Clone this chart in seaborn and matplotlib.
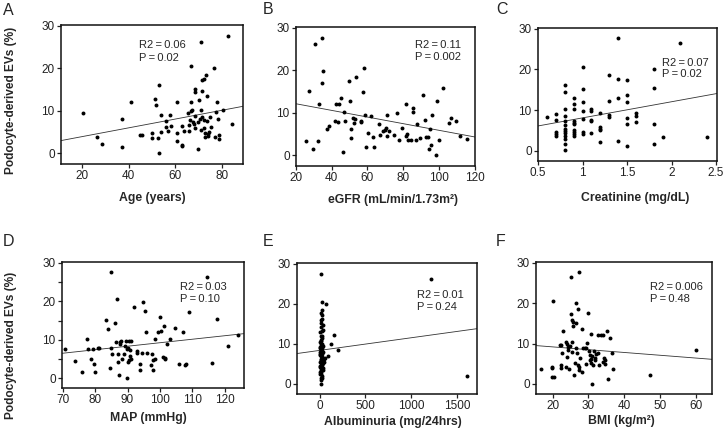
import matplotlib
matplotlib.use('Agg')
import pandas as pd
import seaborn as sns
import matplotlib.pyplot as plt

W, H = 723, 437

# A: age vs podocyte-derived EVs
age = [20.5, 26.5, 28.4, 37.2, 37.2, 41.1, 44.9, 45.9, 49.9, 50.1,
       51.1, 51.9, 52.4, 52.8, 52.9, 53.8, 53.9, 55.8, 55.9, 56.9,
       57.8, 58.1, 60.6, 60.8, 60.8, 62.8, 62.9, 62.9, 63.6, 65.4,
       65.8, 65.9, 66.5, 66.9, 66.8, 67.1, 67.4, 67.8, 68.5, 68.6,
       68.6, 68.6, 69.5, 69.6, 70.2, 70.8, 70.8, 71.5, 71.6, 71.6,
       72.4, 72.4, 72.4, 72.5, 72.5, 73.2, 73.4, 73.5, 74.2, 74.5,
       74.9, 75.4, 76.4, 76.8, 77.6, 77.9, 78.2, 78.5, 78.6, 80.5,
       82.5, 84.2, 73.9, 70.5, 66.2, 71.1]
evs_age = [9.5, 3.9, 2.1, 8.1, 1.6, 12.0, 4.3, 4.4, 4.9, 3.7,
           12.9, 11.4, 3.7, 16.1, 0.0, 9.0, 5.0, 7.5, 6.1, 5.2,
           9.0, 6.5, 12.0, 4.9, 2.8, 2.0, 1.8, 6.5, 5.2, 9.5,
           6.6, 5.2, 9.9, 12.1, 20.6, 10.1, 7.4, 6.9, 8.8, 15.2,
           14.4, 6.0, 7.4, 1.1, 12.6, 10.2, 26.3, 8.5, 17.2, 14.6,
           17.6, 7.8, 6.0, 4.9, 3.8, 18.5, 13.5, 7.7, 4.2, 5.0,
           8.5, 6.3, 20.0, 3.8, 9.7, 12.0, 8.1, 4.3, 3.4, 10.3,
           27.6, 7.0, 4.6, 8.2, 7.8, 5.4]

# B: eGFR
egfr = [25.8, 27.5, 29.3, 30.7, 32.3, 32.9, 34.4, 34.6, 35.3, 37.6,
        38.5, 42.0, 42.4, 43.6, 44.3, 45.4, 46.2, 46.9, 47.5, 49.5,
        50.5, 51.0, 51.0, 52.0, 52.5, 52.9, 53.8, 56.3, 56.3, 57.6,
        58.3, 58.9, 59.1, 60.4, 62.1, 63.9, 63.2, 66.2, 66.9, 68.8,
        69.9, 70.1, 71.0, 71.0, 72.1, 75.0, 76.4, 77.8, 79.3, 81.5,
        81.7, 82.4, 82.6, 84.1, 85.4, 85.6, 87.3, 87.7, 89.5, 91.2,
        92.7, 93.8, 94.2, 95.5, 96.3, 98.3, 98.7, 100.0, 102.1, 105.4,
        106.9, 109.5, 112.0, 115.9, 92.3, 94.8]
evs_egfr = [3.4, 15.2, 1.6, 26.1, 3.3, 12.0, 17.0, 27.5, 19.9, 6.2,
            6.8, 8.1, 12.1, 7.9, 12.1, 13.5, 0.8, 10.3, 8.1, 17.5,
            12.8, 6.1, 4.0, 8.7, 7.6, 8.6, 18.4, 7.8, 8.1, 15.0,
            20.5, 9.6, 1.9, 5.2, 9.3, 1.9, 4.4, 7.3, 4.7, 5.8,
            6.0, 6.4, 9.6, 4.6, 5.7, 4.7, 10.0, 3.7, 6.5, 12.0,
            4.6, 5.0, 3.6, 3.6, 10.3, 11.1, 3.7, 7.3, 4.1, 14.2,
            4.4, 4.3, 1.4, 2.5, 9.6, 0.0, 12.8, 3.7, 15.9, 7.5,
            8.8, 8.0, 4.6, 3.8, 8.3, 6.2]

# C: creatinine
creat = [0.6, 0.7, 0.7, 0.7, 0.7, 0.7,
         0.8, 0.8, 0.8, 0.8, 0.8, 0.8, 0.8, 0.8, 0.8, 0.8, 0.8, 0.8, 0.8,
         0.9, 0.9, 0.9, 0.9, 0.9, 0.9, 0.9, 0.9, 0.9, 0.9,
         1.0, 1.0, 1.0, 1.0, 1.0, 1.0, 1.0,
         1.1, 1.1, 1.1, 1.1, 1.1,
         1.2, 1.2, 1.2, 1.2, 1.2,
         1.3, 1.3, 1.3, 1.3,
         1.4, 1.4, 1.4, 1.4,
         1.5, 1.5, 1.5, 1.5, 1.5, 1.5,
         1.6, 1.6, 1.6,
         1.8, 1.8, 1.8, 1.8, 1.9, 2.1, 2.4]
evs_creat = [8.4, 9.1, 7.6, 4.7, 4.2, 3.7,
             16.2, 14.4, 10.2, 8.5, 7.3, 6.3, 5.4, 4.8, 4.4, 3.7, 2.8, 1.7, 0.1,
             13.0, 11.4, 10.2, 7.3, 6.9, 6.6, 5.2, 4.7, 4.2, 3.7,
             20.7, 15.2, 12.0, 9.8, 7.8, 4.7, 4.1,
             10.4, 9.7, 7.6, 7.4, 4.5,
             9.4, 5.9, 5.4, 5.0, 2.1,
             18.6, 12.2, 8.9, 8.3,
             27.8, 17.7, 12.9, 2.3,
             17.3, 13.7, 12.1, 8.0, 6.5, 1.1,
             9.2, 8.6, 7.2,
             20.1, 15.4, 6.5, 1.7, 3.4, 26.4, 3.5]

# D: mean arterial pressure
map_mmhg = [70.8, 73.9, 76.0, 77.4, 77.7, 78.6, 79.3, 79.6, 79.9, 80.8,
            81.2, 83.3, 84.0, 84.6, 84.8, 85.1, 85.0, 86.0, 86.3, 86.8,
            87.0, 87.0, 87.4, 87.6, 87.7, 88.1, 88.4, 88.9, 89.3, 89.5,
            89.8, 89.8, 90.0, 90.2, 90.4, 90.6, 90.7, 90.9, 91.0, 91.1,
            91.9, 92.8, 92.9, 93.9, 93.9, 94.4, 94.9, 95.5, 95.6, 96.1,
            97.1, 97.4, 97.8, 98.0, 98.5, 98.6, 99.4, 99.9, 100.3, 100.8,
            101.2, 101.5, 101.7, 102.3, 103.1, 104.7, 105.9, 107.1, 107.6, 107.9,
            108.9, 114.4, 116.1, 117.7, 120.9, 124.0]
evs_map = [7.5, 4.6, 1.6, 10.3, 7.5, 5.0, 7.7, 3.8, 1.6, 8.0,
           7.8, 15.1, 12.8, 2.8, 8.0, 6.4, 27.5, 14.3, 9.5, 20.5,
           6.4, 4.2, 1.0, 9.5, 8.9, 9.8, 4.9, 6.3, 8.4, 9.8,
           7.5, 0.0, 7.9, 4.3, 9.7, 4.7, 7.3, 5.9, 5.1, 9.6,
           18.4, 7.2, 6.7, 3.7, 2.2, 6.7, 19.9, 17.5, 12.1, 6.7,
           3.4, 6.3, 2.2, 4.7, 4.9, 10.2, 12.0, 15.9, 12.2, 5.6,
           13.6, 5.1, 5.3, 8.8, 10.2, 13.0, 3.8, 12.1, 3.4, 3.7,
           17.2, 26.2, 3.9, 15.3, 8.3, 11.2]

# E: albuminuria
albu = [14, 1217, 25, 69, 22, 20, 22, 18, 15, 33,
        40, 22, 156, 18, 25, 15, 120, 12, 20, 10,
        28, 203, 14, 22, 8, 87, 30, 60, 12, 45,
        18, 25, 10, 15, 35, 20, 14, 22, 12, 14,
        1609, 8, 26, 5, 30, 18, 24, 6, 36, 14,
        28, 6, 32, 16, 8, 28, 18, 6, 40, 10,
        30, 18, 5, 12, 26, 9, 33, 20, 42, 16,
        38, 50, 24]
evs_albu = [27.5, 26.2, 20.5, 19.9, 18.5, 17.7, 17.2, 15.9, 15.2, 14.7,
            13.6, 13.3, 12.3, 12.1, 11.4, 11.1, 10.1, 10.0, 9.6, 9.3,
            9.0, 8.6, 8.5, 8.0, 7.6, 7.0, 6.7, 6.4, 6.0, 5.6,
            5.2, 4.8, 4.4, 3.9, 3.5, 2.9, 2.4, 1.9, 1.6, 0.0,
            2.1, 10.4, 9.9, 8.9, 8.3, 7.8, 7.4, 7.2, 6.6, 6.3,
            5.9, 5.4, 5.0, 4.6, 4.2, 3.8, 3.4, 3.0, 4.1, 2.6,
            1.5, 1.1, 12.9, 14.3, 16.1, 8.1, 9.4, 10.8, 7.9, 6.9,
            5.3, 6.2, 12.0]

# F: BMI
bmi = [16.7, 19.7, 19.9, 19.8, 20.3, 20.0, 21.9, 22.2, 22.2, 22.4,
       22.8, 22.7, 23.6, 23.8, 23.9, 24.0, 24.3, 24.4, 24.6, 24.9,
       25.0, 25.2, 25.3, 25.5, 25.5, 25.6, 25.8, 26.0, 26.2, 26.4,
       26.5, 26.6, 26.7, 27.0, 27.2, 27.3, 27.3, 27.4, 27.6, 28.2,
       28.4, 28.3, 28.9, 29.4, 29.4, 29.6, 30.0, 30.1, 30.3, 30.3,
       30.6, 30.7, 30.7, 30.9, 31.1, 31.2, 31.5, 31.7, 31.8, 32.0,
       32.6, 33.0, 32.7, 33.5, 34.1, 34.2, 34.4, 34.5, 34.7, 35.3,
       35.6, 35.9, 36.5, 36.9, 47.2, 60.0]
evs_bmi = [3.8, 4.2, 3.9, 1.7, 1.7, 20.6, 9.7, 4.8, 4.0, 9.6,
           13.0, 7.7, 10.4, 4.3, 10.0, 6.6, 8.4, 9.2, 3.8, 9.3,
           17.3, 26.5, 7.8, 15.9, 10.5, 15.4, 14.3, 2.2, 5.2, 15.2,
           8.9, 20.0, 7.6, 4.7, 18.5, 4.1, 3.4, 27.6, 6.5, 13.7,
           8.9, 2.9, 8.8, 8.8, 4.9, 10.1, 17.6, 8.1, 7.2, 5.9,
           12.3, 5.1, 6.2, 0.0, 7.0, 4.6, 8.2, 6.5, 6.0, 7.5,
           12.1, 4.7, 7.6, 12.1, 12.0, 5.5, 6.3, 4.9, 5.9, 13.1,
           1.2, 11.4, 7.6, 3.8, 2.1, 8.3]

letters = ['A', 'B', 'C', 'D', 'E', 'F']
xlabels = ['Age (years)', 'eGFR (mL/min/1.73m\u00b2)', 'Creatinine (mg/dL)',
           'MAP (mmHg)', 'Albuminuria (mg/24hrs)', 'BMI (kg/m\u00b2)']
r2_text = ['R2\u2009=\u20090.06', 'R2\u2009=\u20090.11', 'R2\u2009=\u20090.07',
           'R2\u2009=\u20090.03', 'R2\u2009=\u20090.01', 'R2\u2009=\u20090.006']
p_text = ['P\u2009=\u20090.02', 'P\u2009=\u20090.002', 'P\u2009=\u20090.02',
          'P\u2009=\u20090.10', 'P\u2009=\u20090.24', 'P\u2009=\u20090.48']
# fitted lines (intercept, slope)
fits = [(1.87, 0.1034), (13.7, -0.078), (4.13, 3.97),
        (0.15, 0.091), (8.38, 0.00316), (10.55, -0.069)]
xticks = [[20, 40, 60, 80], [20, 40, 60, 80, 100, 120], [0.5, 1, 1.5, 2, 2.5],
          [70, 80, 90, 100, 110, 120], [0, 500, 1000, 1500], [20, 30, 40, 50, 60]]
xticklabels = [None, None, ['0.5', '1', '1.5', '2', '2.5'], None, None, None]
xlims = [(11, 89), (20, 120.2), (0.5, 2.51), (69.8, 125.9), (-246, 1717), (15.3, 64.6)]

xs = [age, egfr, creat, map_mmhg, albu, bmi]
ys = [evs_age, evs_egfr, evs_creat, evs_map, evs_albu, evs_bmi]

# layout in pixels: (left, top, right, bottom)
boxes = [(61, 25, 243, 164), (296, 27, 475, 166), (538, 28, 717, 161),
         (62, 262, 244, 388), (297, 263, 477, 394), (536, 262, 712, 394)]
letter_pos = [(3, 15), (263, 14), (496, 14), (3, 246), (263, 246), (496, 246)]
xlabel_pos = [(152, 198), (393, 200), (635, 198), (148, 418), (393, 422), (621, 421)]
stat_pos = [(139, 48, 61), (415, 48, 60), (662, 66, 77),
            (180, 290, 302), (417, 298, 310), (650, 290, 302)]

sns.set_style('ticks')
plt.rcParams['font.family'] = ['Liberation Sans', 'DejaVu Sans']
plt.rcParams['xtick.major.size'] = 3
plt.rcParams['ytick.major.size'] = 3
plt.rcParams['ytick.minor.size'] = 3

fig = plt.figure(figsize=(W / 100, H / 100), dpi=100)


def fx(x):
    return x / W


def fy(y):
    return 1 - y / H


for i in range(6):
    l, t, r, b = boxes[i]
    ax = fig.add_axes([fx(l), fy(b), fx(r - l), (b - t) / H])
    df = pd.DataFrame({'x': xs[i], 'y': ys[i]})
    sns.scatterplot(data=df, x='x', y='y', ax=ax, color='black', s=8,
                    linewidth=0, zorder=3)
    b0, m = fits[i]
    ax.axline((0, b0), slope=m, color='#333333', lw=0.6, zorder=2)
    ax.set_xlim(*xlims[i])
    ax.set_ylim(-2.5, 30.2)
    ax.set_xticks(xticks[i])
    if xticklabels[i] is not None:
        ax.set_xticklabels(xticklabels[i])
    ax.set_yticks([0, 10, 20, 30])
    if i == 3:
        ax.set_yticks([5, 15, 25], minor=True)
    ax.tick_params(labelsize=8.5, width=0.9, pad=1.5, colors='#222222')
    ax.tick_params(which='minor', width=0.9)
    ax.set_xlabel('')
    ax.set_ylabel('')
    for sp in ax.spines.values():
        sp.set_visible(True)
        sp.set_linewidth(1.1)
        sp.set_color('#111111')

    fig.text(fx(letter_pos[i][0]), fy(letter_pos[i][1]), letters[i],
             fontsize=11.5, va='baseline', ha='left')
    fig.text(fx(xlabel_pos[i][0]), fy(xlabel_pos[i][1]), xlabels[i],
             fontsize=8.8, fontweight='bold', ha='center', va='center')
    sx, sy1, sy2 = stat_pos[i]
    fig.text(fx(sx), fy(sy1), r2_text[i], fontsize=8, va='baseline', ha='left')
    fig.text(fx(sx), fy(sy2), p_text[i], fontsize=8, va='baseline', ha='left')

for cy in (100, 345):
    fig.text(fx(11), fy(cy), 'Podocyte-derived EVs (%)', rotation=90,
             fontsize=8.6, fontweight='bold', ha='center', va='center')

fig.savefig('out.png', dpi=100)
